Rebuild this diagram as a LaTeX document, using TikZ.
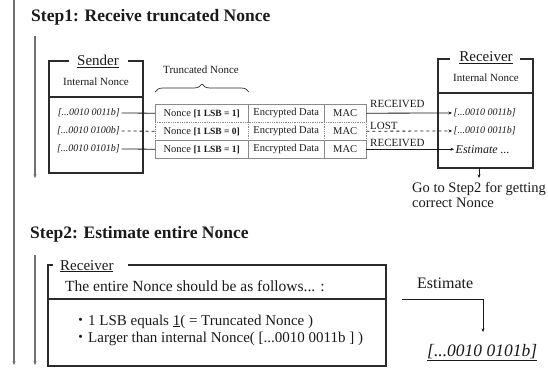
\documentclass[tikz,border=0pt]{standalone}
\usepackage{fontspec}
\setmainfont{Liberation Serif}
\newfontfamily\jpfont{Noto Sans CJK JP}
\usetikzlibrary{arrows.meta,decorations.pathreplacing}
\definecolor{ink}{HTML}{1A1A1A}
\definecolor{boxline}{HTML}{2B2B2B}
\definecolor{guide}{HTML}{707070}
\definecolor{tblline}{HTML}{8A8A8A}
\newcommand\fsz[1]{\fontsize{#1}{#1}\selectfont}
\begin{document}
\begin{tikzpicture}[x=1pt,y=-1pt,
  tip/.style={-{Stealth[length=3.5pt,width=3pt]}},
  guideline/.style={guide, line width=1.1pt, tip},
  frame/.style={boxline, line width=1.1pt},
  link/.style={ink, line width=0.8pt},
  tbl/.style={tblline, line width=0.8pt},
  tbldot/.style={tblline, line width=0.8pt, densely dotted},
  cell/.style={inner sep=0pt, minimum height=18pt, anchor=north west, font=\fsz{10.5}, text=ink},
  steptitle/.style={font=\fsz{17.5}\bfseries, text=ink, inner sep=0pt, anchor=base west},
  rowtxt/.style={font=\fsz{10}\itshape, text=ink, inner sep=1.5pt},
  lbl/.style={font=\fsz{11}, text=ink, inner sep=0pt, anchor=base west},
  txt/.style={text=ink, inner sep=0pt},
  bracemark/.style={boxline, line width=0.7pt, decorate, decoration={brace, amplitude=8pt}}
]
\useasboundingbox (0,0) rectangle (548,369);

% progress guides on the left
\coordinate (g0) at (14,0);   \coordinate (g0e) at (14,365);
\coordinate (g1) at (35,36);  \coordinate (g1e) at (35,178);
\coordinate (g2) at (35,255); \coordinate (g2e) at (35,365);
\draw[guideline] (g0) -- (g0e);
\draw[guideline] (g1) -- (g1e);
\draw[guideline] (g2) -- (g2e);

% ---------------- Step 1 ----------------
\node[steptitle] (s1) at (31,22) {Step1: Receive truncated Nonce};

% sender box
\draw[frame] (69,61) -| (49,173) -| (143,61) -- (128,61);
\draw[frame] (49,97) -- (143,97);
\node[txt, font=\fsz{15}, anchor=base] (sname) at (98,66) {\underline{Sender}};
\node[txt, font=\fsz{11}] (sint) at (96,82) {Internal Nonce};
\node[rowtxt, anchor=east] (sa) at (121.5,113) {[...0010 0011b]};
\node[rowtxt, anchor=east] (sb) at (121.5,131) {[...0010 0100b]};
\node[rowtxt, anchor=east] (sc) at (121.5,149) {[...0010 0101b]};

% packets
\node[cell, minimum width=93pt] (pn1) at (155,104) {Nonce {\fsz{9.5}\bfseries [1 LSB = 1]}};
\node[cell, minimum width=76pt] (pe1) at (248,104) {Encrypted Data};
\node[cell, minimum width=42pt] (pm1) at (324,104) {MAC};
\node[cell, minimum width=93pt] (pn2) at (155,122) {Nonce {\fsz{9.5}\bfseries [1 LSB = 0]}};
\node[cell, minimum width=76pt] (pe2) at (248,122) {Encrypted Data};
\node[cell, minimum width=42pt] (pm2) at (324,122) {MAC};
\node[cell, minimum width=93pt] (pn3) at (155,140) {Nonce {\fsz{9.5}\bfseries [1 LSB = 1]}};
\node[cell, minimum width=76pt] (pe3) at (248,140) {Encrypted Data};
\node[cell, minimum width=42pt] (pm3) at (324,140) {MAC};

\draw[tbl] (pn1.south west) -- (pn1.north west) -- (pm1.north east) -- (pm1.south east);
\draw[tbl] (pe1.north west) -- (pe1.south west) (pm1.north west) -- (pm1.south west);
\draw[tbldot] (pn1.south west) -- (pm1.south east);
\draw[tbldot] (pn2.north west) -- (pn2.south west) (pe2.north west) -- (pe2.south west)
              (pm2.north west) -- (pm2.south west) (pm2.north east) -- (pm2.south east);
\draw[tbl] (pn3.north west) rectangle (pm3.south east);
\draw[tbl] (pe3.north west) -- (pe3.south west) (pm3.north west) -- (pm3.south west);

% truncated nonce brace
\draw[bracemark] (155,92) -- (249,92);
\node[txt, font=\fsz{11}] (trunc) at (201,70) {Truncated Nonce};

% sender to packets
\draw[link] (sa.east) -- (pn1.west);
\draw[link, dashed] (sb.east) -- (pn2.west);
\draw[link] (sc.east) -- (pn3.west);

% receiver box
\draw[frame] (450,59) -| (438,168) -| (533,59) -- (520,59);
\draw[frame] (438,93) -- (533,93);
\node[txt, font=\fsz{15}, anchor=base] (rname) at (486,62) {\underline{Receiver}};
\node[txt, font=\fsz{11}] (rint) at (486,78) {Internal Nonce};
\node[rowtxt, anchor=west] (ra) at (452,113) {[...0010 0011b]};
\node[rowtxt, anchor=west] (rb) at (452,131) {[...0010 0011b]};
\node[rowtxt, font=\fsz{12}\itshape, anchor=west] (rc) at (454,150) {Estimate ...};

% packets to receiver
\draw[link, tip] (pm1.east) -- (ra.west);
\draw[link, tip, dashed] (pm2.east) -- (rb.west);
\draw[link, tip] (pm3.east) -- (rc.west |- pm3.east);
\node[lbl] (l1) at (370,107) {RECEIVED};
\node[lbl] (l2) at (370,129) {LOST};
\node[lbl] (l3) at (370,146) {RECEIVED};

% hand over to step 2
\coordinate (rbot) at (479,168);
\coordinate (rgo) at (479,178);
\draw[link, tip] (rbot) -- (rgo);
\node[txt, font=\fontsize{14.5}{15.5}\selectfont, anchor=north west, align=left] (goto) at (412,182)
  {Go to Step2 for getting\\correct Nonce};

% ---------------- Step 2 ----------------
\node[steptitle] (s2) at (30,238) {Step2: Estimate entire Nonce};

\draw[frame] (53,265) -| (48,366) -| (386,265) -- (128,265);
\draw[frame] (48,299) -- (386,299);
\node[txt, font=\fsz{15}, anchor=base west] (r2name) at (60,270) {\underline{Receiver}};
\node[txt, font=\fsz{15.5}, anchor=base west] (rule) at (65,291) {The entire Nonce should be as follows... :};
\node[txt, font=\fsz{15}, anchor=base west] (b1) at (73,325) {{\jpfont ・}1 LSB equals \underline{1}( = Truncated Nonce )};
\node[txt, font=\fsz{15}, anchor=base west] (b2) at (73,342) {{\jpfont ・}Larger than internal Nonce( [...0010 0011b ] )};

\node[txt, font=\fsz{16}, anchor=base west] (est) at (417,288) {Estimate};
\coordinate (estart) at (402,299);
\coordinate (eend) at (483,332);
\draw[link, tip] (estart) -| (eend);
\node[txt, font=\fsz{17.5}\itshape, anchor=base west] (final) at (427,356) {\underline{[...0010 0101b]}};
\end{tikzpicture}
\end{document}
